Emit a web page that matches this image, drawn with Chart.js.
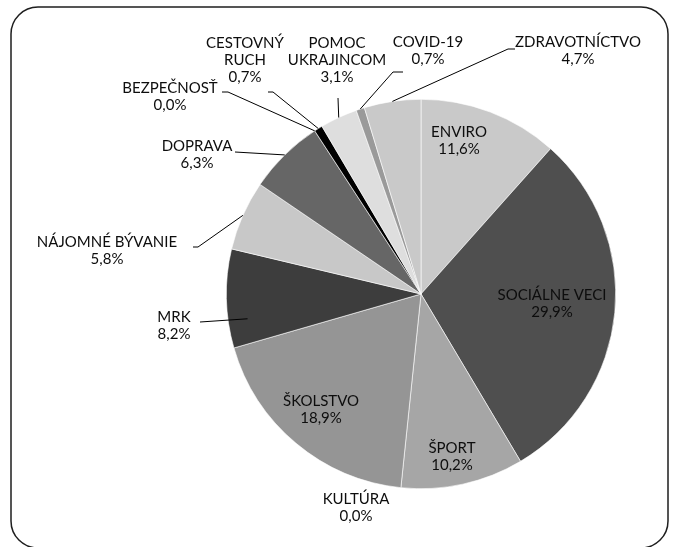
<!DOCTYPE html>
<html>
<head>
<meta charset="utf-8">
<script src="https://cdn.jsdelivr.net/npm/chart.js@4.4.0/dist/chart.umd.min.js"></script>
<style>
    html, body { margin: 0; padding: 0; background: #fff; }
    #wrap { width: 674px; height: 547px; }
</style>
</head>
<body>
<div id="wrap"><canvas id="pieChart" width="674" height="547"></canvas></div>
<script>
// data, clockwise from 12 o'clock
const categories = ['ENVIRO', 'SOCIÁLNE VECI', 'ŠPORT', 'KULTÚRA', 'ŠKOLSTVO', 'MRK', 'NÁJOMNÉ BÝVANIE',
    'DOPRAVA', 'BEZPEČNOSŤ', 'CESTOVNÝ RUCH', 'POMOC UKRAJINCOM', 'COVID-19', 'ZDRAVOTNÍCTVO'];
const shares = [11.6, 29.9, 10.2, 0.0, 18.9, 8.2, 5.8, 6.3, 0.0, 0.7, 3.1, 0.7, 4.7];
// how the category names wrap in the labels
const labelLines = [['ENVIRO'], ['SOCIÁLNE VECI'], ['ŠPORT'], ['KULTÚRA'], ['ŠKOLSTVO'], ['MRK'], ['NÁJOMNÉ BÝVANIE'],
    ['DOPRAVA'], ['BEZPEČNOSŤ'], ['CESTOVNÝ', 'RUCH'], ['POMOC', 'UKRAJINCOM'], ['COVID-19'], ['ZDRAVOTNÍCTVO']];

const sliceColors = ['#c9c9c9', '#4f4f4f', '#a6a6a6', '#8c8c8c', '#959595', '#3d3d3d', '#c8c8c8',
    '#666666', '#262626', '#000000', '#dedede', '#9a9a9a', '#c9c9c9'];

// label block centres (text placement only)
const labelCenters = [[459, 141], [552, 304], [452, 457], [356, 508], [321, 410], [174, 326], [107, 251],
    [197, 155], [170, 97], [245, 60], [337, 60], [428, 51], [578, 51]];
// leader lines: start point near the label, horizontal stub, where in the slice they end
const leaders = [null, null, null, null, null,
    {from: [200, 322], stub: 0, frac: 0.27, rf: 0.9},
    {from: [193, 247], stub: 5, frac: 0.5, rf: 1},
    {from: [235, 152], stub: 0, frac: 0.5, rf: 1},
    {from: [222, 92], stub: 6, frac: 0.5, rf: 1},
    {from: [268, 92], stub: 5, frac: 0.5, rf: 1},
    {from: [338, 98], stub: 0, frac: 0.5, rf: 1},
    {from: [403, 72], stub: -10, frac: 0.5, rf: 1},
    {from: [515, 49], stub: -7, frac: 0.5, rf: 1}];

const labelFont = '15px Lato';
const lineHeight = 17;

function pct(v) {
    return v.toFixed(1).replace('.', ',') + '%';
}

const framePlugin = {
    id: 'frame',
    beforeDraw(chart) {
        const ctx = chart.ctx;
        ctx.save();
        ctx.fillStyle = '#ffffff';
        ctx.fillRect(0, 0, chart.width, chart.height);
        ctx.beginPath();
        ctx.roundRect(11, 7, 657, 541, 27);
        ctx.lineWidth = 1.5;
        ctx.strokeStyle = '#1e1e1e';
        ctx.stroke();
        ctx.restore();
    }
};

const labelPlugin = {
    id: 'sliceLabels',
    afterDraw(chart) {
        const ctx = chart.ctx;
        const arcs = chart.getDatasetMeta(0).data;
        ctx.save();
        // leader lines
        ctx.strokeStyle = '#000';
        ctx.lineWidth = 1;
        arcs.forEach((arc, i) => {
            const ld = leaders[i];
            if (!ld) return;
            const a = arc.startAngle + (arc.endAngle - arc.startAngle) * ld.frac;
            const r = arc.outerRadius * ld.rf;
            const ex = arc.x + Math.cos(a) * r;
            const ey = arc.y + Math.sin(a) * r;
            ctx.beginPath();
            ctx.moveTo(ld.from[0], ld.from[1]);
            ctx.lineTo(ld.from[0] + ld.stub, ld.from[1]);
            ctx.lineTo(ex, ey);
            ctx.stroke();
        });
        // texts
        ctx.font = labelFont;
        ctx.fillStyle = '#0d0d0d';
        ctx.textAlign = 'center';
        ctx.textBaseline = 'middle';
        categories.forEach((c, i) => {
            const lines = labelLines[i].concat([pct(shares[i])]);
            const [cx, cy] = labelCenters[i];
            const top = cy - (lines.length - 1) * lineHeight / 2;
            lines.forEach((t, k) => ctx.fillText(t, cx, top + k * lineHeight));
        });
        ctx.restore();
    }
};

const pieChart = new Chart(document.getElementById('pieChart').getContext('2d'), {
    type: 'pie',
    data: {
        labels: categories,
        datasets: [{
            data: shares,
            backgroundColor: sliceColors,
            borderColor: '#ffffff',
            borderWidth: 0.6
        }]
    },
    options: {
        responsive: false,
        animation: false,
        layout: {padding: {left: 226, right: 58, top: 99, bottom: 58}},
        plugins: {
            legend: {display: false},
            tooltip: {enabled: false}
        }
    },
    plugins: [framePlugin, labelPlugin]
});
</script>
</body>
</html>
